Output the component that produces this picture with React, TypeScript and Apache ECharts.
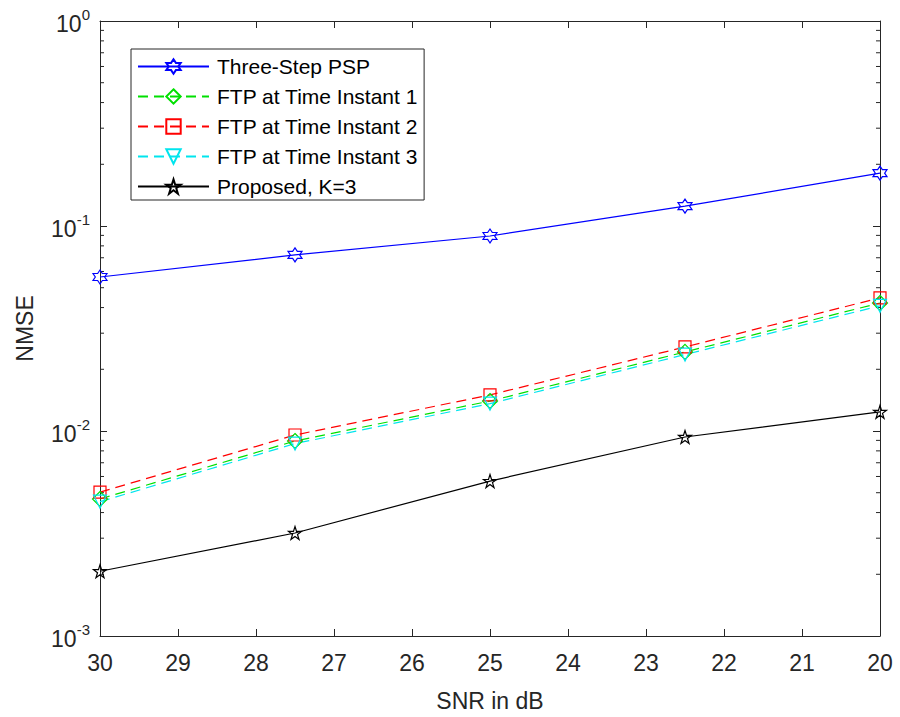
import React, { useEffect, useRef } from "react";
import * as echarts from "echarts";

const snr = [30, 27.5, 25, 22.5, 20];
const threeStepPSP = [0.0564, 0.0723, 0.0894, 0.125, 0.181];
const ftp1 = [0.00466, 0.00894, 0.014, 0.0243, 0.0421];
const ftp2 = [0.00503, 0.00956, 0.015, 0.0257, 0.0446];
const ftp3 = [0.00452, 0.00868, 0.0136, 0.0236, 0.0408];
const proposed = [0.00207, 0.00318, 0.0057, 0.00935, 0.0124];
const seriesNames = [
  "Three-Step PSP",
  "FTP at Time Instant 1",
  "FTP at Time Instant 2",
  "FTP at Time Instant 3",
  "Proposed, K=3",
];
const xTicks = [30, 29, 28, 27, 26, 25, 24, 23, 22, 21, 20];
const decades = [-3, -2, -1];
const minorMultipliers = [2, 3, 4, 5, 6, 7, 8, 9];

function starPath(points: number, inner: number): string {
  const pts: string[] = [];
  for (let i = 0; i < points * 2; i++) {
    const r = i % 2 === 0 ? 1 : inner;
    const a = -Math.PI / 2 + (i * Math.PI) / points;
    pts.push(`${(r * Math.cos(a) * 50 + 50).toFixed(2)},${(r * Math.sin(a) * 50 + 50).toFixed(2)}`);
  }
  return "path://M" + pts.join("L") + "Z";
}

const pentagram = starPath(5, 0.382);
const hexagram = starPath(6, 0.577);

const minorTickValues: number[] = [];
decades.forEach((d) => minorMultipliers.forEach((m) => minorTickValues.push(m * Math.pow(10, d))));

const axisColor = "#262626";
const font = "'Liberation Sans', Arial, Helvetica, sans-serif";

function mk(name: string, data: number[], color: string, symbol: string, size: number, dashed: boolean, rotate = 0) {
  return {
    name,
    type: "line",
    data: snr.map((x, i) => [x, data[i]]),
    symbol,
    symbolSize: size,
    symbolRotate: rotate,
    showAllSymbol: true,
    lineStyle: { color, width: 1.2, type: dashed ? [10, 6] : "solid" },
    itemStyle: { color: "rgba(255,255,255,0)", borderColor: color, borderWidth: 1.2 },
    emphasis: { disabled: true },
    z: 3,
  };
}

export default function App() {
  const ref = useRef<HTMLDivElement>(null);
  useEffect(() => {
    if (!ref.current) return;
    const chart = echarts.init(ref.current, undefined, { renderer: "svg" });
    const xBase = {
      type: "value",
      min: 20,
      max: 30,
      interval: 1,
      inverse: true,
      axisLine: { show: true, lineStyle: { color: axisColor, width: 1 } },
      axisTick: { show: true, inside: true, length: 7, lineStyle: { color: axisColor } },
      splitLine: { show: false },
    };
    const yBase = {
      type: "log",
      logBase: 10,
      min: 0.001,
      max: 1,
      splitNumber: 3,
      axisLine: { show: true, lineStyle: { color: axisColor, width: 1 } },
      axisTick: { show: true, inside: true, length: 7, lineStyle: { color: axisColor } },
      splitLine: { show: false },
    };
    chart.setOption({
      animation: false,
      backgroundColor: "#ffffff",
      textStyle: { fontFamily: font },
      grid: { left: 100, right: 20, top: 21, bottom: 81, containLabel: false },
      xAxis: [
        {
          ...xBase,
          position: "bottom",
          name: "SNR in dB",
          nameLocation: "middle",
          nameGap: 53,
          nameTextStyle: { fontSize: 23, color: axisColor, fontFamily: font },
          axisLabel: {
            show: true,
            margin: 15,
            fontSize: 23,
            color: axisColor,
            fontFamily: font,
            customValues: xTicks,
          },
        },
        { ...xBase, position: "top", axisLabel: { show: false } },
      ],
      yAxis: [
        {
          ...yBase,
          position: "left",
          name: "NMSE",
          nameLocation: "middle",
          nameGap: 64,
          nameRotate: 90,
          nameTextStyle: { fontSize: 23, color: axisColor, fontFamily: font },
          axisLabel: {
            show: true,
            margin: 10,
            color: axisColor,
            formatter: (v: number) => `{b|10}{s|${Math.round(Math.log10(v))}}`,
            rich: {
              b: { fontSize: 23, color: axisColor, fontFamily: font, verticalAlign: "bottom", lineHeight: 28 },
              s: { fontSize: 15, color: axisColor, fontFamily: font, verticalAlign: "top", lineHeight: 28, padding: [0, 0, 12, 0] },
            },
          },
        },
        { ...yBase, position: "right", axisLabel: { show: false } },
      ],
      legend: {
        orient: "vertical",
        left: 131,
        top: 49,
        data: seriesNames,
        itemWidth: 71,
        itemHeight: 18,
        itemGap: 9,
        padding: [7, 6, 3, 6],
        borderColor: axisColor,
        borderWidth: 1,
        backgroundColor: "#ffffff",
        textStyle: { fontSize: 21, lineHeight: 21, color: "#000000", fontFamily: font, padding: [0, 0, 0, 3] },
        selectedMode: false,
      },
      series: [
        {
          type: "custom",
          name: "minorTicks",
          silent: true,
          clip: false,
          data: minorTickValues.map((v) => [30, v]),
          renderItem: (_params: any, api: any) => {
            const v = api.value(1);
            const pl = api.coord([30, v]);
            const pr = api.coord([20, v]);
            return {
              type: "group",
              children: [
                { type: "line", shape: { x1: pl[0], y1: pl[1], x2: pl[0] + 4, y2: pl[1] }, style: { stroke: axisColor, lineWidth: 1 } },
                { type: "line", shape: { x1: pr[0], y1: pr[1], x2: pr[0] - 4, y2: pr[1] }, style: { stroke: axisColor, lineWidth: 1 } },
              ],
            };
          },
          z: 1,
        },
        mk(seriesNames[0], threeStepPSP, "#0000ff", hexagram, 14, false),
        mk(seriesNames[1], ftp1, "#00e000", "diamond", 15, true),
        mk(seriesNames[2], ftp2, "#ff0000", "rect", 12, true),
        mk(seriesNames[3], ftp3, "#00e5ee", "triangle", 13, true, 180),
        mk(seriesNames[4], proposed, "#000000", pentagram, 13, false),
      ],
    });
    return () => chart.dispose();
  }, []);
  return <div ref={ref} style={{ width: 900, height: 717, position: "absolute", left: 0, top: 0 }} />;
}
